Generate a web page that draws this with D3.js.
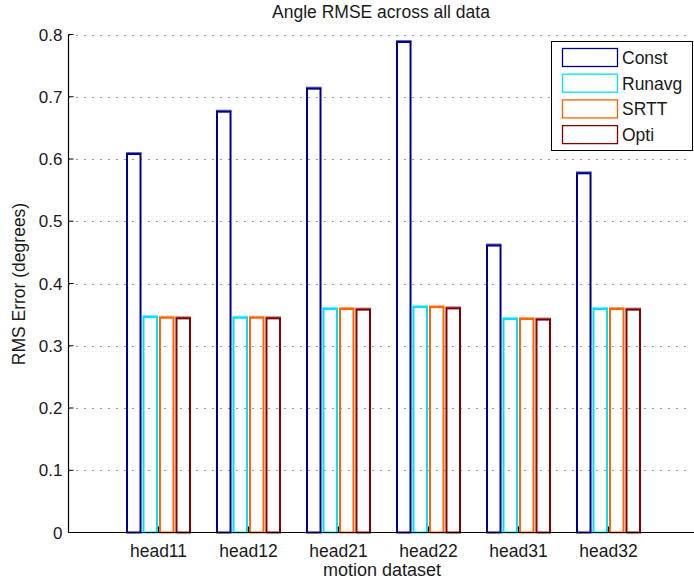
<!DOCTYPE html>
<html>
<head>
    <meta charset="utf-8" />
    <script src="https://d3js.org/d3.v7.min.js"></script>
    <style>
        body { margin: 0; background: #fff; }
        text { font-family: "Liberation Sans", Arial, sans-serif; fill: #1a1a1a; }
    </style>
</head>
<body>
    <svg id="chart"></svg>
    <script type="text/javascript">
        // data
        var datasets = ["head11", "head12", "head21", "head22", "head31", "head32"];
        var methods = ["Const", "Runavg", "SRTT", "Opti"];
        var constVals = [0.608, 0.676, 0.713, 0.788, 0.461, 0.577];
        var runavgVals = [0.346, 0.345, 0.359, 0.362, 0.343, 0.359];
        var srttVals = [0.345, 0.345, 0.359, 0.362, 0.343, 0.359];
        var optiVals = [0.344, 0.344, 0.358, 0.360, 0.342, 0.358];
        var yTicks = [0, 0.1, 0.2, 0.3, 0.4, 0.5, 0.6, 0.7, 0.8];
        var colors = ["#000090", "#00e0ff", "#ff6400", "#820000"];

        var width = 694, height = 584;
        var plotLeft = 68.5, plotBottom = 532.5, plotTop = 34.5;
        var svg = d3.select('#chart').attr('width', width).attr('height', height);

        var series = [constVals, runavgVals, srttVals, optiVals];

        // x: group positions 1..6 on a 0..7 axis that runs past the right edge
        var x = d3.scaleLinear().domain([0, 7]).range([plotLeft, plotLeft + 630]);
        var y = d3.scaleLinear().domain([0, 0.8]).range([plotBottom, plotTop]);
        var inner = d3.scaleBand().domain(methods).range([-31.5, 31.5]).paddingInner(0.18);

        // dotted grid
        svg.selectAll('.grid').data(yTicks.slice(1)).enter().append('line')
            .attr('x1', plotLeft).attr('x2', 692)
            .attr('y1', function (d) { return Math.round(y(d)) + 0.5; })
            .attr('y2', function (d) { return Math.round(y(d)) + 0.5; })
            .style('stroke', '#333').style('stroke-width', 1)
            .style('stroke-dasharray', '1,7');

        // bars
        for (var s = 0; s < series.length; s++) {
            var g = svg.append('g');
            g.selectAll('rect').data(series[s]).enter().append('rect')
                .attr('x', function (d, i) { return x(i + 1) + inner(methods[s]); })
                .attr('y', function (d) { return y(d); })
                .attr('width', inner.bandwidth())
                .attr('height', function (d) { return plotBottom - y(d); })
                .attr('fill', 'none')
                .style('stroke', colors[s]).style('stroke-width', 2);
            // thicker top edge, like the reference
            g.selectAll('line').data(series[s]).enter().append('line')
                .attr('x1', function (d, i) { return x(i + 1) + inner(methods[s]) - 1; })
                .attr('x2', function (d, i) { return x(i + 1) + inner(methods[s]) + inner.bandwidth() + 1; })
                .attr('y1', function (d) { return y(d) - 1; })
                .attr('y2', function (d) { return y(d) - 1; })
                .style('stroke', colors[s]).style('stroke-width', 2).style('opacity', 0.6);
        }

        // axes
        svg.append('line').attr('x1', plotLeft).attr('x2', plotLeft).attr('y1', plotTop).attr('y2', plotBottom)
            .style('stroke', '#000').style('stroke-width', 1.2);
        svg.append('line').attr('x1', plotLeft).attr('x2', width).attr('y1', plotBottom).attr('y2', plotBottom)
            .style('stroke', '#000').style('stroke-width', 1.2);

        // y ticks (inward) and labels
        svg.selectAll('.ytick').data(yTicks).enter().append('line')
            .attr('x1', plotLeft).attr('x2', plotLeft + 5)
            .attr('y1', function (d) { return y(d); }).attr('y2', function (d) { return y(d); })
            .style('stroke', '#000');
        svg.selectAll('.ylab').data(yTicks).enter().append('text')
            .attr('x', plotLeft - 6).attr('y', function (d) { return y(d) + 6; })
            .attr('text-anchor', 'end').style('font-size', '17px')
            .text(function (d) { return d === 0 ? '0' : d3.format('.1f')(d); });

        // x ticks (inward) and labels
        svg.selectAll('.xtick').data(datasets).enter().append('line')
            .attr('x1', function (d, i) { return x(i + 1); }).attr('x2', function (d, i) { return x(i + 1); })
            .attr('y1', plotBottom).attr('y2', plotBottom - 6)
            .style('stroke', '#000');
        svg.selectAll('.xlab').data(datasets).enter().append('text')
            .attr('x', function (d, i) { return x(i + 1); }).attr('y', 557)
            .attr('text-anchor', 'middle').style('font-size', '17.5px')
            .text(function (d) { return d; });

        // titles
        svg.append('text').attr('x', 381).attr('y', 18).attr('text-anchor', 'middle')
            .style('font-size', '17.5px').text('Angle RMSE across all data');
        svg.append('text').attr('x', 382).attr('y', 576).attr('text-anchor', 'middle')
            .style('font-size', '18px').text('motion dataset');
        svg.append('text').attr('transform', 'translate(25,284) rotate(-90)')
            .attr('text-anchor', 'middle').style('font-size', '17.5px').text('RMS Error (degrees)');

        // legend
        var leg = svg.append('g');
        leg.append('rect').attr('x', 551.5).attr('y', 41.5).attr('width', 141).attr('height', 109)
            .attr('fill', '#fff').style('stroke', '#000').style('stroke-width', 1);
        var rows = leg.selectAll('.row').data(methods).enter().append('g')
            .attr('transform', function (d, i) { return 'translate(0,' + (48.5 + i * 25.7) + ')'; });
        rows.append('rect').attr('x', 562.5).attr('y', 0).attr('width', 55).attr('height', 18)
            .attr('fill', 'none').style('stroke', function (d, i) { return colors[i]; }).style('stroke-width', 1.3);
        rows.append('text').attr('x', 622).attr('y', 15.5).style('font-size', '17.5px')
            .text(function (d) { return d; });
    </script>
</body>
</html>
